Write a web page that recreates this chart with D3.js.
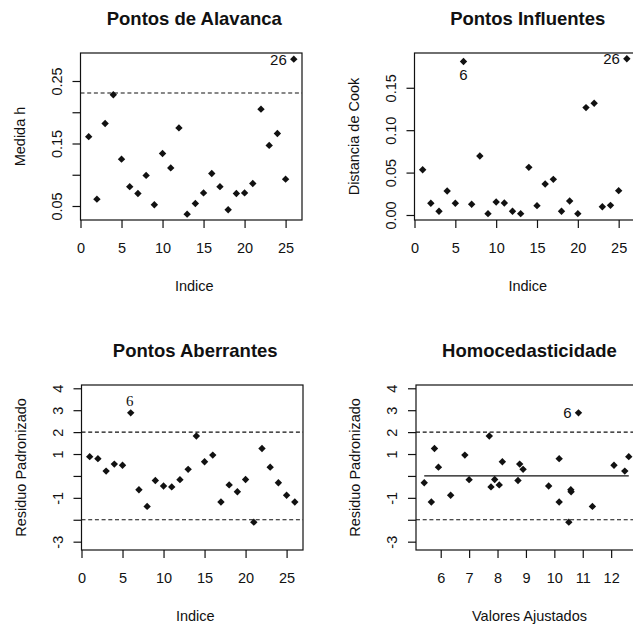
<!DOCTYPE html>
<html>
<head>
<meta charset="utf-8">
<script src="https://cdn.jsdelivr.net/npm/d3@7"></script>
<style>
  body { margin: 0; background: #fff; }
  svg { display: block; font-family: "Liberation Sans", Arial, sans-serif; }
</style>
</head>
<body>
<svg id="chart" width="633" height="627"></svg>
<script>
// indices 1..26
let indices = d3.range(1, 27);

// leverage (medida h)
let alavanca = [0.161, 0.061, 0.182, 0.228, 0.125, 0.081, 0.070, 0.099, 0.052, 0.134,
                0.111, 0.175, 0.037, 0.054, 0.071, 0.102, 0.081, 0.044, 0.070, 0.071,
                0.086, 0.205, 0.147, 0.166, 0.093, 0.285];
let limiteH = 0.2308;

// cook distance
let cook = [0.0534, 0.0138, 0.0044, 0.0283, 0.0138, 0.1810, 0.0126, 0.0696, 0.0016, 0.0153,
            0.0142, 0.0044, 0.0016, 0.0562, 0.0110, 0.0366, 0.0420, 0.0044, 0.0165, 0.0016,
            0.1266, 0.1317, 0.0098, 0.0114, 0.0287, 0.1843];

// standardized residuals
let residuos = [0.88, 0.79, 0.22, 0.54, 0.49, 2.88, -0.63, -1.39, -0.21, -0.46,
                -0.50, -0.17, 0.30, 1.82, 0.65, 0.95, -1.19, -0.41, -0.72, -0.16,
                -2.11, 1.25, 0.40, -0.31, -0.88, -1.19];

// fitted values
let ajustados = [12.62, 10.17, 12.48, 8.78, 12.10, 10.85, 10.58, 11.34, 8.72, 9.80,
                 7.77, 7.00, 8.90, 7.71, 8.17, 6.85, 5.67, 8.06, 10.59, 7.90,
                 10.51, 5.78, 5.92, 5.42, 6.35, 10.17];

let ticksIndice = [0, 5, 10, 15, 20, 25];
let ticksH = [0.05, 0.10, 0.15, 0.20, 0.25];
let labelsH = ["0.05", "", "0.15", "", "0.25"];
let ticksCook = [0.00, 0.05, 0.10, 0.15];
let labelsCook = ["0.00", "0.05", "0.10", "0.15"];
let ticksRes = [-3, -2, -1, 0, 1, 2, 3, 4];
let labelsRes = ["-3", "", "-1", "", "1", "2", "3", "4"];
let ticksAjust = [6, 7, 8, 9, 10, 11, 12];

let svg = d3.select("#chart");
let diamond = "M0,-3.7L3.7,0L0,3.7L-3.7,0Z";

function panel(cfg) {
    let x = d3.scaleLinear().domain(cfg.xdom).range([cfg.left, cfg.right]);
    let y = d3.scaleLinear().domain(cfg.ydom).range([cfg.bottom, cfg.top]);
    let g = svg.append("g");

    g.append("text")
        .attr("x", (cfg.left + cfg.right) / 2 + 3)
        .attr("y", cfg.top - 28)
        .attr("text-anchor", "middle")
        .style("font-weight", "bold")
        .style("font-size", "18.5px")
        .attr("fill", "#111")
        .text(cfg.title);

    let clip = "clip" + cfg.id;
    g.append("clipPath").attr("id", clip)
        .append("rect")
        .attr("x", cfg.left).attr("y", cfg.top)
        .attr("width", cfg.right - cfg.left).attr("height", cfg.bottom - cfg.top);

    let inner = g.append("g").attr("clip-path", "url(#" + clip + ")");

    (cfg.dashed || []).forEach(v => {
        inner.append("line")
            .attr("x1", cfg.left).attr("x2", cfg.right)
            .attr("y1", y(v)).attr("y2", y(v))
            .attr("stroke", "#111")
            .attr("stroke-width", 1.2)
            .attr("stroke-dasharray", "4,2.7");
    });

    if (cfg.solid) {
        inner.append("line")
            .attr("x1", x(cfg.solid[0])).attr("x2", x(cfg.solid[1]))
            .attr("y1", y(0)).attr("y2", y(0))
            .attr("stroke", "#111")
            .attr("stroke-width", 1.2);
    }

    inner.selectAll("path.pt")
        .data(cfg.xs.map((d, i) => [d, cfg.ys[i]]))
        .join("path")
        .attr("class", "pt")
        .attr("d", diamond)
        .attr("transform", d => "translate(" + x(d[0]) + "," + y(d[1]) + ")")
        .attr("fill", "#111");

    g.append("rect")
        .attr("x", cfg.left).attr("y", cfg.top)
        .attr("width", cfg.right - cfg.left).attr("height", cfg.bottom - cfg.top)
        .attr("fill", "none")
        .attr("stroke", "#111")
        .attr("stroke-width", 1.2);

    let xAxis = g.append("g")
        .attr("transform", "translate(0," + cfg.bottom + ")")
        .call(d3.axisBottom(x).tickValues(cfg.xticks).tickSize(8).tickPadding(15).tickFormat(d3.format("d")));
    xAxis.select(".domain").remove();
    xAxis.selectAll("line").attr("stroke", "#111").attr("stroke-width", 1.2);
    xAxis.selectAll("text").style("font-size", "14.5px").attr("fill", "#111").attr("font-family", null);

    let yAxis = g.append("g")
        .attr("transform", "translate(" + cfg.left + ",0)")
        .call(d3.axisLeft(y).tickValues(cfg.yticks).tickSize(8).tickFormat((d, i) => cfg.ylabels[i]));
    yAxis.select(".domain").remove();
    yAxis.selectAll("line").attr("stroke", "#111").attr("stroke-width", 1.2);
    yAxis.selectAll("text")
        .attr("x", null).attr("dy", null)
        .attr("text-anchor", "middle")
        .attr("dominant-baseline", "central")
        .attr("transform", "translate(-24,0) rotate(-90)")
        .style("font-size", "14.5px")
        .attr("fill", "#111")
        .attr("font-family", null);

    g.append("text")
        .attr("x", (cfg.left + cfg.right) / 2 + 3)
        .attr("y", cfg.bottom + 71)
        .attr("text-anchor", "middle")
        .style("font-size", "14.5px")
        .attr("fill", "#111")
        .text(cfg.xlab);

    let ymid = (cfg.top + cfg.bottom) / 2;
    g.append("text")
        .attr("transform", "translate(" + (cfg.left - 61) + "," + ymid + ") rotate(-90)")
        .attr("text-anchor", "middle")
        .attr("dominant-baseline", "central")
        .style("font-size", "14.5px")
        .attr("fill", "#111")
        .text(cfg.ylab);

    (cfg.notes || []).forEach(n => {
        let px = x(cfg.xs[n.i - 1]), py = y(cfg.ys[n.i - 1]);
        let t = g.append("text")
            .attr("fill", "#111")
            .style("font-size", "15px")
            .text(n.text);
        if (n.serif) t.attr("font-family", "'Liberation Serif', 'Times New Roman', serif");
        if (n.pos === "left") {
            t.attr("x", px - 7).attr("y", py).attr("text-anchor", "end").attr("dominant-baseline", "central");
        } else if (n.pos === "below") {
            t.attr("x", px).attr("y", py + 19).attr("text-anchor", "middle");
        } else {
            t.attr("x", px - 1).attr("y", py - 7).attr("text-anchor", "middle");
        }
    });
}

panel({
    id: 1, title: "Pontos de Alavanca",
    left: 80.5, right: 302, top: 53, bottom: 220,
    xdom: [0, 27], ydom: [0.0276, 0.2948],
    xs: indices, ys: alavanca,
    xticks: ticksIndice, yticks: ticksH, ylabels: labelsH,
    dashed: [limiteH],
    xlab: "Indice", ylab: "Medida h",
    notes: [{ i: 26, text: "26", pos: "left" }]
});

panel({
    id: 2, title: "Pontos Influentes",
    left: 414.5, right: 635, top: 53, bottom: 220,
    xdom: [0, 27], ydom: [-0.0059, 0.191],
    xs: indices, ys: cook,
    xticks: ticksIndice, yticks: ticksCook, ylabels: labelsCook,
    xlab: "Indice", ylab: "Distancia de Cook",
    notes: [{ i: 6, text: "6", pos: "below" }, { i: 26, text: "26", pos: "left" }]
});

panel({
    id: 3, title: "Pontos Aberrantes",
    left: 81.5, right: 303, top: 385, bottom: 550,
    xdom: [0, 27], ydom: [-3.38, 4.15],
    xs: indices, ys: residuos,
    xticks: ticksIndice, yticks: ticksRes, ylabels: labelsRes,
    dashed: [2, -2],
    xlab: "Indice", ylab: "Residuo Padronizado",
    notes: [{ i: 6, text: "6", pos: "above", serif: true }]
});

panel({
    id: 4, title: "Homocedasticidade",
    left: 416, right: 637, top: 385, bottom: 550,
    xdom: [5.13, 12.91], ydom: [-3.38, 4.15],
    xs: ajustados, ys: residuos,
    xticks: ticksAjust, yticks: ticksRes, ylabels: labelsRes,
    dashed: [2, -2],
    solid: d3.extent(ajustados),
    xlab: "Valores Ajustados", ylab: "Residuo Padronizado",
    notes: [{ i: 6, text: "6", pos: "left" }]
});
</script>
</body>
</html>
